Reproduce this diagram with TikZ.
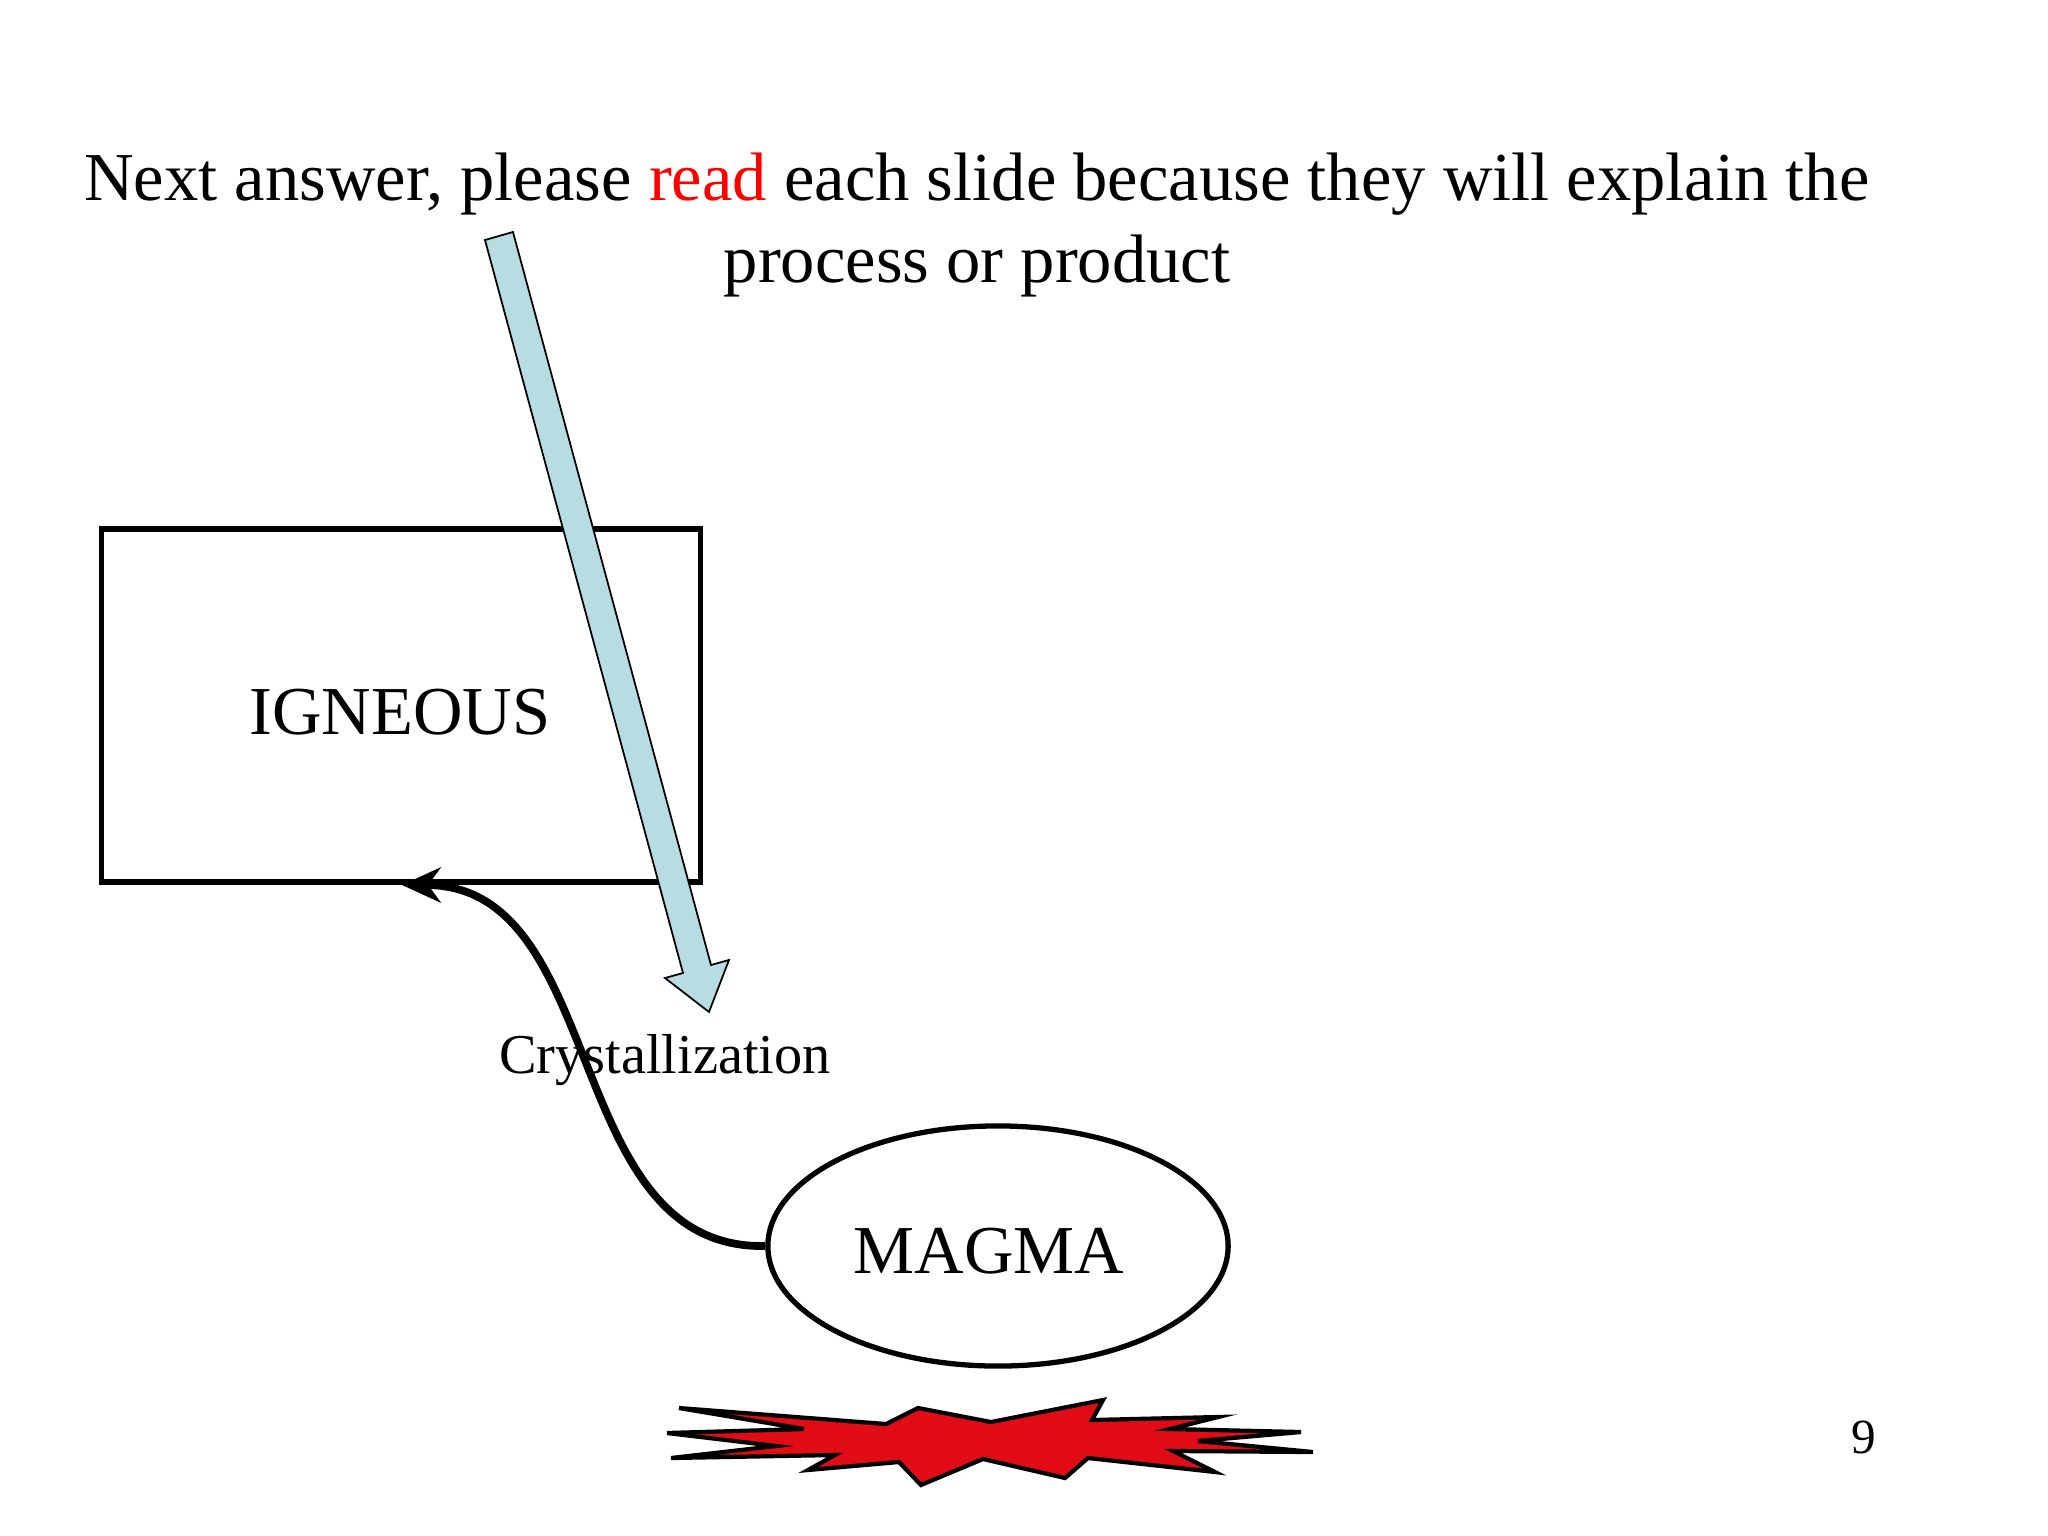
\documentclass[tikz,border=0pt]{standalone}
\usepackage{fontspec}
\setmainfont{Liberation Serif}
\usetikzlibrary{shapes.geometric,arrows.meta}
\begin{document}
\begin{tikzpicture}[x=0.01cm,y=-0.01cm,
  big/.style={font=\fontsize{19.5}{23.5}\selectfont},
  thick box/.style={draw=black,line width=1.5pt}]
\useasboundingbox (0,0) rectangle (2048,1536);
\node[big,align=center] (title) at (977,225) {Next answer, please \textcolor{red}{read} each slide because they will explain the\\process or product};
\node[thick box,minimum width=5.98cm,minimum height=3.53cm] (ign) at (401,705.5) {};
\node[big] (ignt) at (400,712) {IGNEOUS};
\node[thick box,ellipse,minimum width=4.6cm,minimum height=2.4cm] (mag) at (998,1246) {};
\node[big] (magt) at (989,1251) {MAGMA};
\node[font=\fontsize{16}{19}\selectfont] (cry) at (665,1060) {Crystallization};
\draw[line width=2.2pt,-{Stealth[length=11pt,width=10pt]}] (mag.west) .. controls (560,1250) and (610,885) .. (402,885);
\draw[fill={rgb,255:red,183;green,221;blue,227},line width=0.5pt]
  (485,240)--(513,232)--(711,965)--(729,960)--(709,1012)--(665,978)--(683,973)--cycle;
\draw[fill={rgb,255:red,226;green,12;blue,22},line width=1.2pt]
 (679,1408)--(886,1424)--(918,1408)--(991,1422)--(1103,1400)--(1092,1420)--(1218,1417)--(1170,1429)--(1301,1432)--(1198,1441)--(1313,1452)--(1173,1451)--(1215,1472)--(1088,1458)--(1065,1478)--(983,1459)--(921,1485)--(899,1462)--(808,1470)--(835,1455)--(671,1458)--(776,1446)--(667,1433)--(804,1429)--cycle;
\node[font=\fontsize{14}{16}\selectfont] (pg) at (1864,1437) {9};
\end{tikzpicture}
\end{document}
